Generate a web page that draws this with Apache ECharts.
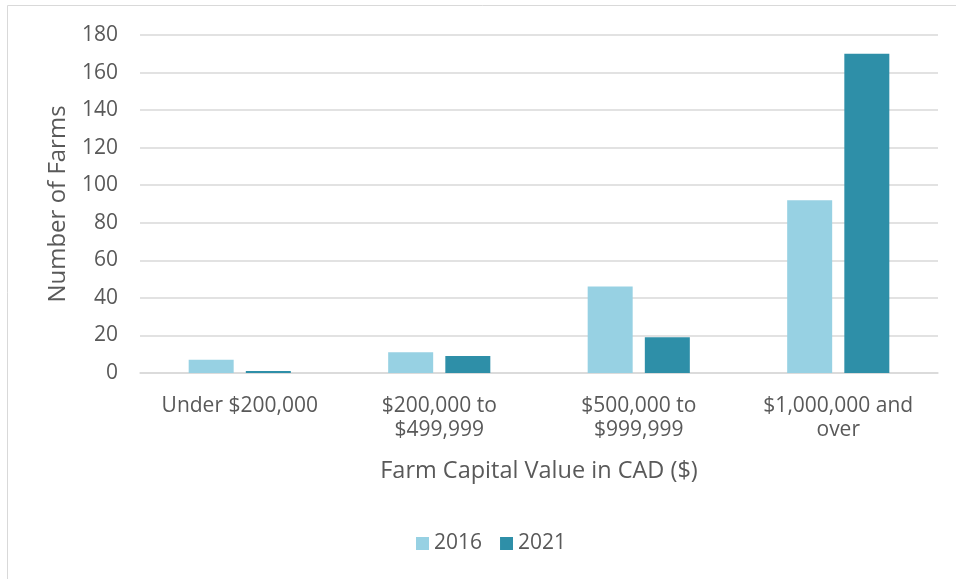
<!DOCTYPE html>
<html>
<head>
<meta charset="utf-8">
<script src="https://cdn.jsdelivr.net/npm/echarts@6/dist/echarts.min.js"></script>
<style>
html,body{margin:0;padding:0;background:#fff;}
#container{width:956px;height:579px;}
</style>
</head>
<body>
<div id="container"></div>
<script>
var categories = ["Under $200,000", "$200,000 to\n$499,999", "$500,000 to\n$999,999", "$1,000,000 and\nover"];
var seriesNames = ["2016", "2021"];
var values2016 = [7, 11, 46, 92];
var values2021 = [1, 9, 19, 170];

var textColor = "#595959";
var font = "'Open Sans', 'Noto Sans', sans-serif";

var dom = document.getElementById("container");
var myChart = echarts.init(dom);
var option = {
    animation: false,
    textStyle: { fontFamily: font },
    graphic: [{
        type: 'rect',
        shape: { x: 7.5, y: 5.5, width: 960, height: 590 },
        style: { fill: 'none', stroke: '#D9D9D9', lineWidth: 1 }
    }],
    grid: { left: 140, right: 18, top: 35, bottom: 206 },
    legend: {
        top: 533,
        left: 416,
        itemWidth: 13,
        itemHeight: 13,
        itemGap: 18,
        itemTextGap: 7,
        icon: 'rect',
        padding: 0,
        textStyle: { color: textColor, fontSize: 21, fontFamily: font },
        data: seriesNames
    },
    xAxis: {
        type: 'category',
        data: categories,
        name: 'Farm Capital Value in CAD ($)',
        nameLocation: 'middle',
        nameGap: 86,
        nameTextStyle: { color: textColor, fontSize: 23.5, fontFamily: font },
        axisTick: { show: false },
        axisLine: { lineStyle: { color: '#D9D9D9', width: 1.5 } },
        axisLabel: { color: textColor, fontSize: 21, margin: 21, lineHeight: 24, interval: 0, fontFamily: font }
    },
    yAxis: {
        type: 'value',
        min: 0,
        max: 180,
        interval: 20,
        name: 'Number of Farms',
        nameLocation: 'middle',
        nameGap: 70,
        nameTextStyle: { color: textColor, fontSize: 24, fontFamily: font },
        axisLine: { show: false },
        axisTick: { show: false },
        axisLabel: { color: textColor, fontSize: 21, margin: 22, fontFamily: font },
        splitLine: { lineStyle: { color: '#D9D9D9', width: 1.5 } }
    },
    series: [{
        name: '2016',
        type: 'bar',
        data: values2016,
        barWidth: 45,
        barGap: '27%',
        itemStyle: { color: '#97D1E3' }
    }, {
        name: '2021',
        type: 'bar',
        data: values2021,
        barWidth: 45,
        itemStyle: { color: '#2E8FA8' }
    }]
};
myChart.setOption(option, true);
</script>
</body>
</html>
